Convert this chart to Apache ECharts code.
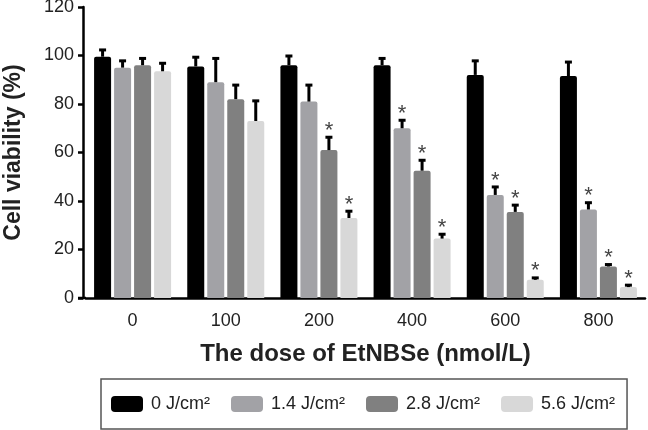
<!DOCTYPE html>
<html lang="en">

<head>
  <meta charset="UTF-8">
  <title>Cell viability</title>
  <script src="https://cdn.jsdelivr.net/npm/echarts@6/dist/echarts.min.js"></script>
  <style>
    html, body { margin: 0; padding: 0; background: #fff; }
    #main { width: 648px; height: 430px; }
  </style>
</head>

<body>
  <div id="main"></div>
  <script>
    // data
    const categories = ['0', '100', '200', '400', '600', '800'];
    const seriesNames = ['0 J/cm²', '1.4 J/cm²', '2.8 J/cm²', '5.6 J/cm²'];
    const colors = ['#000000', '#a2a2a6', '#808080', '#d8d8d8'];

    const val0 = [99.5, 95.5, 96, 96, 92, 91.5];
    const val14 = [95, 89, 81, 70, 42.5, 36.5];
    const val28 = [96, 82, 61, 52.5, 35.5, 13];
    const val56 = [93.5, 73, 33, 24.5, 7.5, 4.5];

    const err0 = [3, 4, 4, 3, 6, 6];
    const err14 = [3, 10, 7, 3.5, 3.5, 3];
    const err28 = [3, 6, 5.5, 4.5, 3, 1];
    const err56 = [3.5, 8.5, 3, 2, 1, 1];

    // 1 = marked with an asterisk
    const sig0 = [0, 0, 0, 0, 0, 0];
    const sig14 = [0, 0, 0, 1, 1, 1];
    const sig28 = [0, 0, 1, 1, 1, 1];
    const sig56 = [0, 0, 1, 1, 1, 1];

    const yTicks = [0, 20, 40, 60, 80, 100, 120];

    const values = [val0, val14, val28, val56];
    const errors = [err0, err14, err28, err56];
    const sigs = [sig0, sig14, sig28, sig56];

    const font = "'Liberation Sans', Arial, Helvetica, sans-serif";
    const barWidth = 17;
    const barGap = 3;
    const gridLeft = 86;
    const gridBottom = 132;

    const myChart = echarts.init(document.getElementById('main'));

    const barSeries = seriesNames.map((name, i) => ({
      name: name,
      type: 'bar',
      data: values[i],
      barWidth: barWidth,
      barGap: (barGap / barWidth * 100) + '%',
      itemStyle: { color: colors[i], borderRadius: [2, 2, 0, 0] },
      z: 2
    }));

    // error bars + asterisks, one custom series per group
    const errSeries = seriesNames.map((name, i) => ({
      type: 'custom',
      coordinateSystem: 'cartesian2d',
      data: categories.map((c, k) => [k, values[i][k], errors[i][k], sigs[i][k]]),
      encode: { x: 0, y: 1 },
      z: 5,
      silent: true,
      renderItem: function (params, api) {
        const k = api.value(0);
        const v = api.value(1);
        const e = api.value(2);
        const s = api.value(3);
        const base = api.coord([k, v]);
        const top = api.coord([k, v + e]);
        const x = base[0] + (i - 1.5) * (barWidth + barGap);
        const children = [
          {
            type: 'line',
            shape: { x1: x, y1: base[1], x2: x, y2: top[1] },
            style: { stroke: '#000', lineWidth: 3 }
          },
          {
            type: 'rect',
            shape: { x: x - 3.5, y: top[1] - 1, width: 7, height: 3 },
            style: { fill: '#000' }
          }
        ];
        if (s) {
          children.push({
            type: 'text',
            x: x,
            y: top[1] + 5,
            style: {
              text: '*',
              fill: '#444',
              font: '22px ' + font,
              align: 'center',
              verticalAlign: 'bottom'
            }
          });
        }
        return { type: 'group', children: children };
      }
    }));

    const option = {
      animation: false,
      textStyle: { fontFamily: font },
      grid: { left: gridLeft, right: 3, top: 7, bottom: gridBottom, outerBoundsMode: 'none' },
      legend: {
        data: seriesNames,
        left: 101,
        top: 379,
        icon: 'roundRect',
        itemWidth: 32,
        itemHeight: 16,
        itemGap: 21,
        padding: [16, 12, 16, 10],
        borderColor: '#555',
        borderWidth: 1.5,
        borderRadius: 0,
        textStyle: { fontSize: 18, color: '#222', fontFamily: font, padding: [0, 0, 0, 3] }
      },
      // x axis line runs a little past the y axis, as in the figure
      graphic: [{
        type: 'line',
        silent: true,
        shape: { x1: gridLeft - 8, y1: 430 - gridBottom, x2: gridLeft, y2: 430 - gridBottom },
        style: { stroke: '#000', lineWidth: 2.5 }
      }],
      xAxis: {
        type: 'category',
        data: categories,
        name: 'The dose of EtNBSe (nmol/L)',
        nameLocation: 'middle',
        nameGap: 44,
        nameTextStyle: { fontSize: 24, fontWeight: 'bold', color: '#222', fontFamily: font },
        axisLine: { lineStyle: { color: '#000', width: 2.5 } },
        axisTick: { alignWithLabel: true, length: 6, lineStyle: { width: 2.5, color: '#000' } },
        axisLabel: { fontSize: 18, color: '#222', margin: 14, fontFamily: font },
        splitLine: { show: false }
      },
      yAxis: {
        type: 'value',
        min: yTicks[0],
        max: yTicks[yTicks.length - 1],
        interval: yTicks[1] - yTicks[0],
        offset: 3,
        name: 'Cell viability (%)',
        nameLocation: 'middle',
        nameGap: 58,
        nameTextStyle: { fontSize: 23, fontWeight: 'bold', color: '#222', fontFamily: font },
        axisLine: { show: true, lineStyle: { color: '#000', width: 2.5 } },
        axisTick: { show: true, length: 5, lineStyle: { width: 2.5, color: '#000' } },
        axisLabel: { fontSize: 18, color: '#222', margin: 9, fontFamily: font },
        splitLine: { show: false }
      },
      series: barSeries.concat(errSeries)
    };

    myChart.setOption(option);
  </script>
</body>

</html>
